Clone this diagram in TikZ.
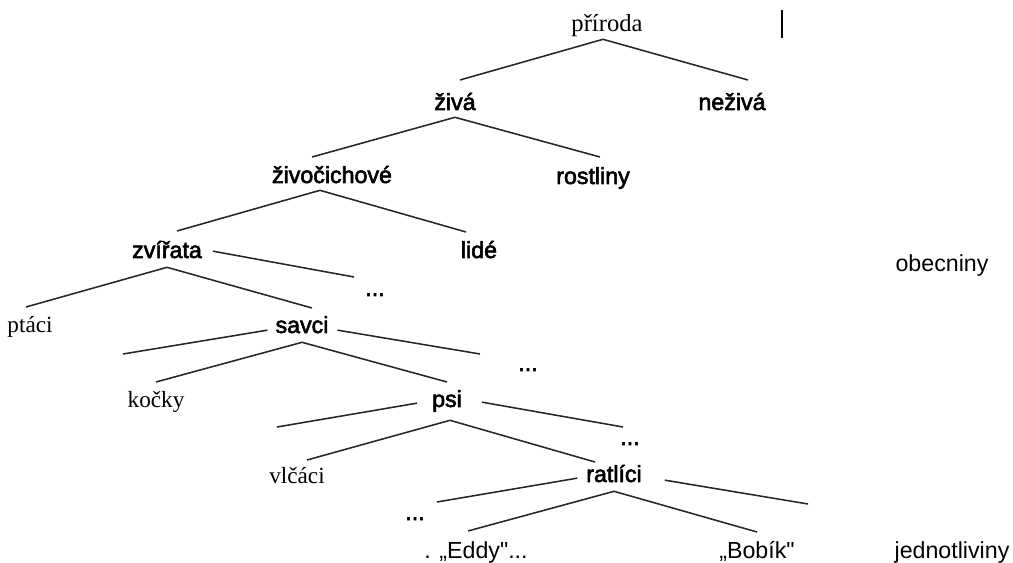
\documentclass[tikz,border=0pt]{standalone}
\usepackage{fontspec}
\setmainfont{Liberation Serif}
\setsansfont{Liberation Sans}[Ligatures=TeXOff]
\newfontfamily\sfsyte{Liberation Sans}[Ligatures=TeXOff, FakeBold=2.5]
\usetikzlibrary{calc}

\tikzset{
  pojem/.style={font=\sfsyte\fontsize{16.5}{18}\selectfont, anchor=base,
    inner xsep=2pt, inner ysep=3pt, text height=16pt, text depth=2pt},
  pojemser/.style={pojem, font=\rmfamily\fontsize{16.5}{18}\selectfont},
  popis/.style={pojem, font=\sffamily\fontsize{16.5}{18}\selectfont},
  hrana/.style={line width=1.1pt, black!85},
}

\begin{document}
\begin{tikzpicture}[x=0.025cm, y=-0.025cm]
  \useasboundingbox (0,0) rectangle (1013,563);

  % uzly stromu (souradnice = uprostred na uctarne)
  \node[pojemser, font=\rmfamily\fontsize{17.5}{19}\selectfont] (priroda) at (607,32) {příroda};
  \node[pojem] (ziva) at (455,110) {živá};
  \node[pojem] (neziva) at (732,110) {neživá};
  \node[pojem] (zivocichove) at (332,183) {živočichové};
  \node[pojem] (rostliny) at (593,184) {rostliny};
  \node[pojem] (zvirata) at (167,258) {zvířata};
  \node[pojem] (lide) at (479,258) {lidé};
  \node[pojem] (tecky1) at (375,296) {...};
  \node[pojemser] (ptaci) at (30,333) {ptáci};
  \node[pojem] (savci) at (302,333) {savci};
  \node[pojem] (tecky2) at (528,371) {...};
  \node[pojemser] (kocky) at (156,408) {kočky};
  \node[pojem] (psi) at (447,407) {psi};
  \node[pojem] (tecky3) at (630,445) {...};
  \node[pojemser] (vlcaci) at (297,483) {vlčáci};
  \node[pojem] (ratlici) at (614,482) {ratlíci};
  \node[pojem] (tecky4) at (415,520) {...};
  \node[popis] (eddy) at (476,558) {. „Eddy"...};
  \node[popis] (bobik) at (757,558) {„Bobík"};

  % popisky vpravo
  \node[popis] (obecniny) at (942,272) {obecniny};
  \node[popis] (jednotliviny) at (952,558) {jednotliviny};

  % volne konce vetvi
  \coordinate (savciL) at (123,354);
  \coordinate (psiL) at (277,427);
  \coordinate (ratliciR) at (808,504);

  % hrany
  \draw[hrana] ($(priroda.south)+(-4,0)$) -- ($(ziva.north)+(5,-3)$);
  \draw[hrana] ($(priroda.south)+(-4,0)$) -- ($(neziva.north)+(16,-3)$);
  \draw[hrana] (ziva.south) -- ($(zivocichove.north)+(-20,1)$);
  \draw[hrana] (ziva.south) -- ($(rostliny.north)+(7,0)$);
  \draw[hrana] ($(zivocichove.south)+(-12,0)$) -- ($(zvirata.north)+(10,0)$);
  \draw[hrana] ($(zivocichove.south)+(-12,0)$) -- ($(lide.north)+(-13,1)$);
  \draw[hrana] ($(zvirata.south)+(0,2)$) -- ($(ptaci.north)+(-4,1)$);
  \draw[hrana] ($(zvirata.south)+(0,2)$) -- ($(savci.north)+(10,2)$);
  \draw[hrana] ($(zvirata.east)+(8,3)$) -- ($(tecky1.north)+(-21,8)$);
  \draw[hrana] ($(savci.west)+(-5,7)$) -- (savciL);
  \draw[hrana] ($(savci.south)+(0,2)$) -- ($(kocky.north)+(0,1)$);
  \draw[hrana] ($(savci.south)+(0,2)$) -- ($(psi.north)+(0,2)$);
  \draw[hrana] ($(savci.east)+(6,7)$) -- ($(tecky2.north)+(-48,10)$);
  \draw[hrana] ($(psi.west)+(-12,6)$) -- (psiL);
  \draw[hrana] ($(psi.south)+(3,6)$) -- ($(vlcaci.north)+(10,4)$);
  \draw[hrana] ($(psi.south)+(3,6)$) -- ($(ratlici.north)+(-19,7)$);
  \draw[hrana] ($(psi.east)+(17,5)$) -- ($(tecky3.north)+(-7,9)$);
  \draw[hrana] ($(ratlici.west)+(-6,6)$) -- ($(tecky4.north)+(22,9)$);
  \draw[hrana] ($(ratlici.south)+(0,2)$) -- ($(eddy.north)+(-8,0)$);
  \draw[hrana] ($(ratlici.south)+(0,2)$) -- ($(bobik.north)+(0,1)$);
  \draw[hrana] ($(ratlici.east)+(20,8)$) -- (ratliciR);

  % svisla carka nahore
  \draw[line width=2pt] (782,10) -- (782,38);
\end{tikzpicture}
\end{document}
